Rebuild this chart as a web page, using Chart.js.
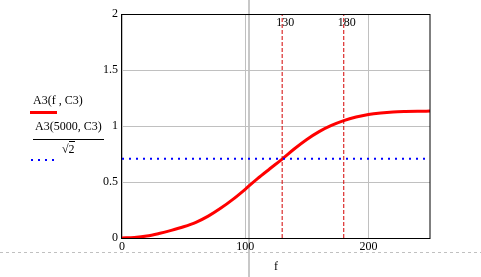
<!DOCTYPE html>
<html>
<head>
<meta charset="utf-8">
<script src="https://cdn.jsdelivr.net/npm/chart.js@4/dist/chart.umd.min.js"></script>
<style>
html,body{margin:0;padding:0;background:#fff;}
#wrap{position:relative;width:481px;height:277px;overflow:hidden;font-family:"Liberation Serif",serif;font-size:12px;color:#000;}
canvas{position:absolute;left:0;top:0;z-index:2;}
.deco{position:absolute;z-index:1;}
.txt{position:absolute;z-index:3;white-space:nowrap;line-height:12px;}
</style>
</head>
<body>
<div id="wrap">
  <div class="deco" style="left:248px;top:0;width:2px;height:277px;background:#c8c8c8;"></div>
  <div class="deco" style="left:0;top:252px;width:481px;height:1px;background:repeating-linear-gradient(to right,#c0c0c0 0 3px,transparent 3px 6px);"></div>
  <div class="txt" style="left:33px;top:94px;">A3(f , C3)</div>
  <div class="txt" style="left:30px;top:111px;width:27px;height:3px;background:#ff0000;"></div>
  <div class="txt" style="left:35px;top:120px;">A3(5000, C3)</div>
  <div class="txt" style="left:33px;top:139px;width:71px;height:1px;background:#000;"></div>
  <div class="txt" style="left:62px;top:143px;">&#8730;<span style="border-top:1px solid #000;">2</span></div>
  <div class="txt" style="left:31px;top:159px;width:23px;height:2px;background:repeating-linear-gradient(to right,#0000ff 0 2px,transparent 2px 7px);"></div>
  <canvas id="c" width="481" height="277"></canvas>
</div>
<script>
// ---- data ----
const freqs = [0,10,20,30,40,50,60,70,80,90,100,110,120,130,140,150,160,170,180,190,200,210,220,230,240,250];
const gain  = [0,0.005,0.017,0.04,0.068,0.1,0.14,0.195,0.265,0.345,0.435,0.53,0.618,0.705,0.797,0.88,0.95,1.005,1.048,1.08,1.103,1.117,1.126,1.13,1.132,1.133];
const refLevel = 0.707;           // A3(5000,C3)/sqrt(2)
const markers = [130, 180];
const xTicks = [0, 100, 200];
const yTicks = [0, 0.5, 1, 1.5, 2];
const xRange = [0, 250];
const yRange = [0, 2];

const curveData = freqs.map((f, i) => ({x: f, y: gain[i]}));
const refData = xRange.map(x => ({x: x, y: refLevel}));
const markerSets = markers.map(m => ({
  data: yRange.map(y => ({x: m, y: y})),
  borderColor: '#d40000', borderWidth: 1, borderDash: [4, 2],
  pointRadius: 0, fill: false
}));

const frame = {
  id: 'frame',
  afterDatasetsDraw(chart) {
    const {ctx, chartArea: a, scales} = chart;
    ctx.save();
    ctx.strokeStyle = '#000';
    ctx.lineWidth = 1;
    ctx.strokeRect(a.left - 0.5, a.top + 0.5, a.right - a.left + 0.5, a.bottom - a.top);
    ctx.fillStyle = '#000';
    ctx.font = '12px "Liberation Serif", serif';
    ctx.textBaseline = 'middle';
    ctx.textAlign = 'center';
    markers.forEach(m => {
      ctx.fillText(String(m), scales.x.getPixelForValue(m) + 3, a.top + 9);
    });
    ctx.restore();
  }
};

const fontT = {family: '"Liberation Serif", serif', size: 12};
const fmt = v => String(v);

new Chart(document.getElementById('c'), {
  type: 'line',
  data: {
    datasets: [
      ...markerSets,
      {data: refData, borderColor: '#0000ff', borderWidth: 2, borderDash: [2, 5], pointRadius: 0, fill: false},
      {data: curveData, borderColor: '#ff0000', borderWidth: 3, pointRadius: 0, fill: false, cubicInterpolationMode: 'monotone'}
    ]
  },
  options: {
    responsive: false,
    animation: false,
    events: [],
    layout: {padding: {left: 0, right: 51, top: 14, bottom: 0}},
    plugins: {legend: {display: false}, tooltip: {enabled: false}},
    scales: {
      x: {
        type: 'linear', min: xRange[0], max: xRange[1],
        afterBuildTicks(s) { s.ticks = xTicks.map(v => ({value: v})); },
        afterFit(s) { s.height = 39; },
        ticks: {color: '#000', font: fontT, padding: 2, maxRotation: 0, callback: fmt},
        grid: {color: '#c0c0c0', drawTicks: false},
        border: {display: false},
        title: {display: true, text: 'f', color: '#000', font: fontT, padding: {top: 0, bottom: 3}}
      },
      y: {
        type: 'linear', min: yRange[0], max: yRange[1],
        afterBuildTicks(s) { s.ticks = yTicks.map(v => ({value: v})); },
        afterFit(s) { s.width = 122; },
        ticks: {color: '#000', font: fontT, padding: 4, callback: fmt},
        grid: {color: '#c0c0c0', drawTicks: false},
        border: {display: false}
      }
    }
  },
  plugins: [frame]
});
</script>
</body>
</html>
